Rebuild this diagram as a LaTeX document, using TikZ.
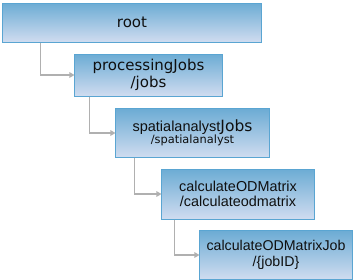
\documentclass[tikz,border=0pt]{standalone}
\usepackage{fontspec}
\usetikzlibrary{arrows.meta}
\newfontfamily\dvfont{DejaVu Sans}
\newfontfamily\libfont{Liberation Sans}
\definecolor{boxtop}{RGB}{108,172,212}
\definecolor{boxbot}{RGB}{208,220,240}
\definecolor{boxline}{RGB}{90,165,210}
\definecolor{connc}{RGB}{176,176,176}
\definecolor{txtc}{RGB}{15,15,15}
\tikzset{
  pathbox/.style={draw=boxline, line width=1bp, top color=boxtop, bottom color=boxbot,
    inner sep=0pt, align=center, text=txtc},
  conn/.style={draw=connc, line width=1.6bp, -{Triangle[length=5bp,width=5.5bp]}}
}
\begin{document}
\begin{tikzpicture}[x=1bp,y=-1bp]
\useasboundingbox (0,0) rectangle (360,280);
\node[pathbox, minimum width=258bp, minimum height=39bp,
  font=\dvfont\fontsize{15bp}{17bp}\selectfont] (root) at (132,22.5) {root};
\node[pathbox, minimum width=147bp, minimum height=42bp,
  font=\dvfont\fontsize{15bp}{16.7bp}\selectfont] (proc) at (148.5,75) {processingJobs\\/jobs};
\node[pathbox, minimum width=153bp, minimum height=49bp,
  font=\dvfont\fontsize{11.4bp}{12.4bp}\selectfont] (spat) at (192.5,133)
  {{\libfont\fontsize{14.5bp}{12.4bp}\selectfont spatialanalyst}{\fontsize{15.5bp}{12.4bp}\selectfont Jobs}\\/spatialanalyst};
\node[pathbox, minimum width=152bp, minimum height=50bp,
  font=\libfont\fontsize{14.4bp}{15.5bp}\selectfont] (calc) at (238,194) {calculateODMatrix\\/calculateodmatrix};
\node[pathbox, minimum width=152bp, minimum height=49bp,
  font=\libfont\fontsize{14.2bp}{16bp}\selectfont] (job) at (276,255) {calculateODMatrixJob\\/\{jobID\}};
\draw[conn] ([xshift=38bp]root.south west) |- (proc.west);
\draw[conn] ([xshift=15bp]proc.south west) |- (spat.west);
\draw[conn] ([xshift=19bp]spat.south west) |- (calc.west);
\draw[conn] ([xshift=13bp]calc.south west) |- (job.west);
\end{tikzpicture}
\end{document}
